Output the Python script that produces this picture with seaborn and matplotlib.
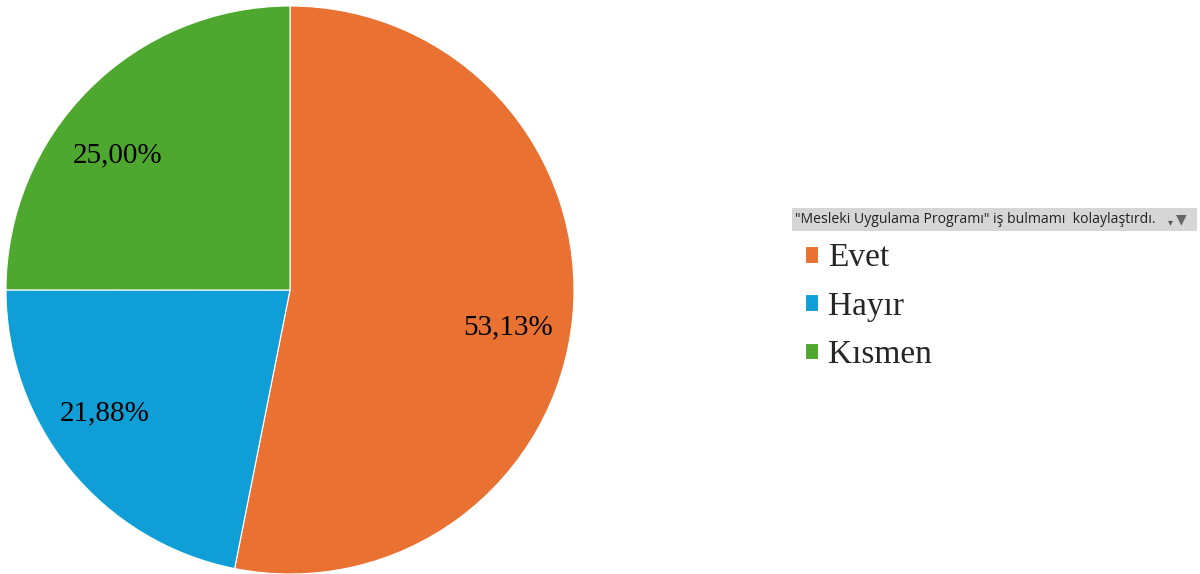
import matplotlib
matplotlib.use("Agg")
import matplotlib.pyplot as plt
import seaborn as sns

# data
categories = ["Evet", "Hayır", "Kısmen"]
shares = [53.13, 21.88, 25.00]
legend_title = '"Mesleki Uygulama Programı" iş bulmamı  kolaylaştırdı.'
# label spots as placed in the original (axes units, radius = 1)
label_pos = [(0.768, -0.13), (-0.651, -0.433), (-0.606, 0.475)]

sns.set_theme(style="white")
plt.rcParams['font.family'] = ['Liberation Serif', 'DejaVu Serif']

colors = sns.color_palette(["#E97132", "#0F9ED5", "#4EA72E"])

fig = plt.figure(figsize=(12, 5.74), dpi=100)
ax = fig.add_axes([6 / 1200, 0.0, 568 / 1200, 568 / 574])

pct_labels = iter([f"{v:.2f}%".replace(".", ",") for v in shares])
wedges, texts, autotexts = ax.pie(
    shares, colors=colors, startangle=90, counterclock=False,
    autopct=lambda p: next(pct_labels), pctdistance=0.78,
    wedgeprops=dict(linewidth=0.8, edgecolor="white"),
    textprops=dict(fontsize=21, color="black"))
for t, pos in zip(autotexts, label_pos):
    t.set_position(pos)
ax.set_aspect("equal")
ax.set_xlim(-1.0, 1.0)
ax.set_ylim(-1.0, 1.0)

# legend title bar with filter icon
fig.patches.append(plt.Rectangle((792 / 1200, 1 - 231 / 574), 405 / 1200, 23 / 574,
                                 transform=fig.transFigure, facecolor="#d6d6d6",
                                 edgecolor="none"))
fig.text(795 / 1200, 1 - 219.5 / 574, legend_title, fontsize=10.1,
         family=["Open Sans", "DejaVu Sans"], va="center", ha="left", color="#222222")
fig.text(1170 / 1200, 1 - 222 / 574, "▾", fontsize=7, family="DejaVu Sans",
         va="center", ha="center", color="#555555")
fig.text(1181 / 1200, 1 - 219.5 / 574, "▼", fontsize=10, family="DejaVu Sans",
         va="center", ha="center", color="#666666")

fig.legend(wedges, categories, loc="upper left",
           bbox_to_anchor=(805 / 1200, 1 - 243 / 574), frameon=False,
           fontsize=24, handlelength=0.4, handleheight=0.4, handletextpad=0.3,
           labelspacing=0.53, borderpad=0.0, borderaxespad=0.0)

fig.savefig("out.png", dpi=100, facecolor="white")
